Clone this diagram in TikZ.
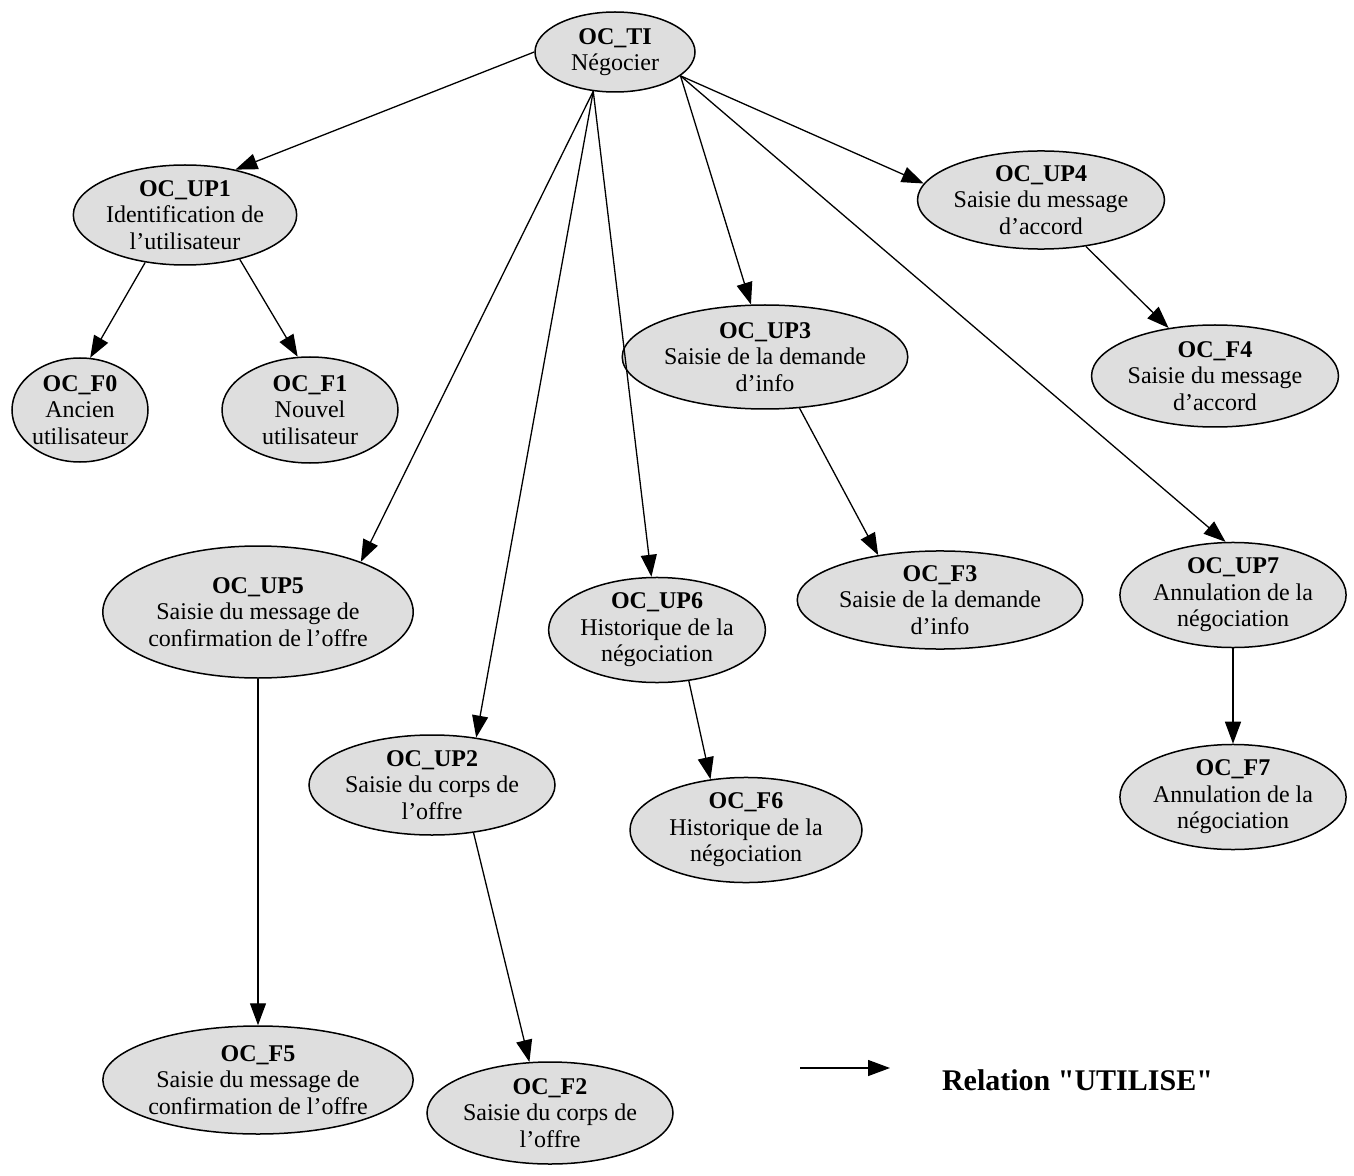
\documentclass[tikz,border=0pt]{standalone}
\usepackage{fontspec}
\setmainfont{Liberation Serif}
% same face, without the TeX quote mapping, for the straight quotes of the legend
\newfontfamily\legendfont{Liberation Serif}[Ligatures=TeXOff]
\usetikzlibrary{shapes.geometric,arrows.meta}

\begin{document}
\begin{tikzpicture}[
  x=0.5pt, y=-0.5pt,
  oc/.style 2 args={ellipse, draw=black, line width=0.75pt, fill=black!13,
    inner sep=0pt, minimum width=#1pt, minimum height=#2pt,
    align=center, font=\fontsize{12}{13.3}\selectfont},
  uses/.style={line width=0.65pt, -{Triangle[length=11pt,width=8pt]}}
]
\useasboundingbox (0,0) rectangle (1354,1176);

% operations (size in pt: horizontal and vertical diameters)
\node[oc={80}{40}]  (TI)  at (615,52)   {\textbf{OC\_TI}\\Négocier};
\node[oc={95}{50}]  (UP1) at (185,215)  {\textbf{OC\_UP1}\\Identification de\\l'utilisateur};
\node[oc={68}{52}]  (F0)  at (80,410)   {\textbf{OC\_F0}\\Ancien\\utilisateur};
\node[oc={88}{53}]  (F1)  at (310,410)  {\textbf{OC\_F1}\\Nouvel\\utilisateur};
\node[oc={136}{66}] (UP5) at (258,612)  {\textbf{OC\_UP5}\\Saisie du message de\\confirmation de l'offre};
\node[oc={113}{50}] (UP2) at (432,785)  {\textbf{OC\_UP2}\\Saisie du corps de\\l'offre};
\node[oc={139}{54}] (F5)  at (258,1080) {\textbf{OC\_F5}\\Saisie du message de\\confirmation de l'offre};
\node[oc={118}{51}] (F2)  at (550,1113) {\textbf{OC\_F2}\\Saisie du corps de\\l'offre};
\node[oc={105}{50}] (UP6) at (657,630)  {\textbf{OC\_UP6}\\Historique de la\\négociation};
\node[oc={116}{50}] (F6)  at (746,830)  {\textbf{OC\_F6}\\Historique de la\\négociation};
\node[oc={115}{52}] (UP3) at (765,357)  {\textbf{OC\_UP3}\\Saisie de la demande\\d'info};
\node[oc={118}{48}] (F3)  at (940,600)  {\textbf{OC\_F3}\\Saisie de la demande\\d'info};
\node[oc={119}{49}] (UP4) at (1041,200) {\textbf{OC\_UP4}\\Saisie du message\\d'accord};
\node[oc={118}{51}] (F4)  at (1215,376) {\textbf{OC\_F4}\\Saisie du message\\d'accord};
\node[oc={95}{52}]  (UP7) at (1233,595) {\textbf{OC\_UP7}\\Annulation de la\\négociation};
\node[oc={101}{51}] (F7)  at (1233,797) {\textbf{OC\_F7}\\Annulation de la\\négociation};

% "utilise" relations
\draw[uses] (TI.180)  -- (UP1.42);
\draw[uses] (UP1.-130) -- (F0.79);
\draw[uses] (UP1.-39) -- (F1.103);
\draw[uses] (TI.-119) -- (UP5.26);
\draw[uses] (TI.-119) -- (UP2.47);
\draw[uses] (TI.-119) -- (UP6.96);
\draw[uses] (TI.-20)  -- (UP3.105);
\draw[uses] (TI.-20)  -- (UP4.172);
\draw[uses] (TI.-20)  -- (UP7.98);
\draw[uses] (UP3.-56) -- (F3.144);
\draw[uses] (UP4.-46) -- (F4.134);
\draw[uses] (UP6.-58) -- (F6.125);
\draw[uses] (UP2.-49) -- (F2.112);
\draw[uses] (UP5.south) -- (F5.north);
\draw[uses] (UP7.south) -- (F7.north);

% legend
\coordinate (lgA) at (800,1068);
\coordinate (lgB) at (890,1068);
\draw[uses] (lgA) -- (lgB);
\node[anchor=west, font=\legendfont\fontsize{15}{18}\selectfont\bfseries] (lgT) at (935,1080) {Relation "UTILISE"};
\end{tikzpicture}
\end{document}
